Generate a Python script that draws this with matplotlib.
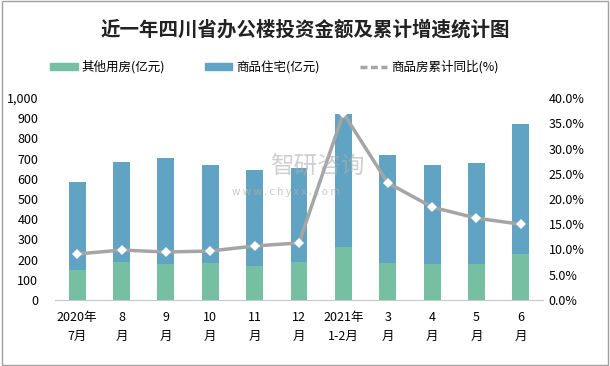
import matplotlib
matplotlib.use("Agg")
import matplotlib.pyplot as plt
from matplotlib.lines import Line2D
from matplotlib.patches import Patch, Rectangle
import numpy as np

plt.rcParams['font.family'] = ['Noto Sans CJK SC', 'DejaVu Sans']

categories = ["2020年\n7月", "8\n月", "9\n月", "10\n月", "11\n月", "12\n月",
              "2021年\n1-2月", "3\n月", "4\n月", "5\n月", "6\n月"]
other = [149, 188, 178, 183, 168, 188, 262, 183, 178, 178, 228]
total = [584, 683, 703, 668, 644, 653, 921, 718, 668, 678, 871]
residential = [t - o for t, o in zip(total, other)]
growth = [9.1, 9.9, 9.5, 9.7, 10.7, 11.3, 37.0, 23.2, 18.4, 16.2, 15.0]

green = "#76BFA3"
blue = "#61A3C3"
gray = "#A5A5A5"

fig = plt.figure(figsize=(6.1, 3.66), dpi=100)
fig.patches.append(Rectangle((0.004, 0.004), 0.992, 0.992, transform=fig.transFigure,
                             fill=False, edgecolor="#A0A0A0", linewidth=1.0))
ax = fig.add_axes([55/610, 1-300/366, (543-55)/610, (300-98)/366])
x = np.arange(len(categories))
w = 0.38
ax.bar(x, other, w, color=green, zorder=2)
ax.bar(x, residential, w, bottom=other, color=blue, zorder=2)
ax.set_xlim(-0.5, len(categories)-0.5)
ax.set_ylim(0, 1000)
ax.set_yticks(np.arange(0, 1001, 100))
ax.set_yticklabels([f"{v:,}" for v in range(0, 1001, 100)])
ax.set_xticks(x)
ax.set_xticklabels(categories, fontsize=9, linespacing=1.6)
for s in ["top", "right", "left"]:
    ax.spines[s].set_visible(False)
ax.spines["bottom"].set_color("#C8C8C8")
ax.tick_params(axis='both', length=0, labelsize=9)
ax.tick_params(axis='x', pad=8)
ax.tick_params(axis='y', pad=12)

ax2 = ax.twinx()
ax2.plot(x, growth, color=gray, linewidth=2.5, marker="D", markersize=5,
         markerfacecolor="white", markeredgewidth=0, zorder=3)
ax2.set_ylim(0, 40)
ax2.set_yticks(np.arange(0, 41, 5))
ax2.set_yticklabels([f"{v:.1f}%" for v in range(0, 41, 5)])
for s in ["top", "right", "left", "bottom"]:
    ax2.spines[s].set_visible(False)
ax2.tick_params(axis='y', length=0, labelsize=9, pad=4)

fig.text(0.5, 0.92, "近一年四川省办公楼投资金额及累计增速统计图", ha="center", va="center",
         fontsize=14, fontweight="bold", color="#222222")

handles = [Patch(color=green, label="其他用房(亿元)"),
           Patch(color=blue, label="商品住宅(亿元)"),
           Line2D([0], [0], color=gray, linewidth=2.5, linestyle=(0, (2, 1)), label="商品房累计同比(%)")]
fig.legend(handles=handles, loc="upper left", bbox_to_anchor=(50/610, 0.835), ncol=3, frameon=False,
           fontsize=9, handlelength=2.2, handleheight=0.6, columnspacing=3.2, handletextpad=0.3,
           borderaxespad=0, borderpad=0)

fig.text(270/610, 1-167/366, "智研咨询", fontsize=17, color="#B0B0B0", alpha=0.6, ha="left", va="center")
fig.text(232/610, 1-192/366, "w w w . c h y x x . c o m", fontsize=7.5, color="#B0B0B0", alpha=0.7,
         ha="left", va="center")

fig.savefig("out.png", dpi=100)
